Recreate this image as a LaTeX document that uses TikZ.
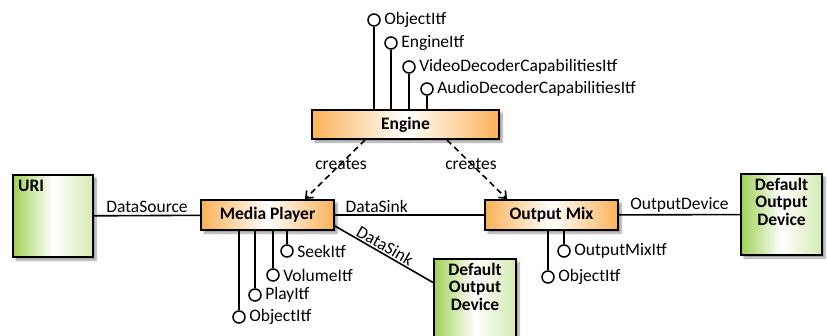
\documentclass[tikz,border=0pt]{standalone}
\usepackage{fontspec}
\setmainfont{Carlito}
\usetikzlibrary{positioning,arrows.meta,shadows.blur}

\definecolor{objorange}{RGB}{250,178,88}
\definecolor{devgreen}{RGB}{160,208,85}

\begin{document}
\begin{tikzpicture}[x=1pt, y=-1pt,
    font=\fontsize{17.5}{18}\selectfont,
    >={Straight Barb[length=6pt,width=10pt]},
    object/.style={draw, line width=2pt, inner sep=0pt,
        left color=objorange, right color=objorange, middle color=white,
        blur shadow={shadow blur steps=6, shadow xshift=3pt, shadow yshift=-3pt},
        font=\fontsize{17.5}{18}\selectfont\bfseries},
    device/.style={draw, line width=2pt, inner sep=0pt,
        left color=devgreen, right color=devgreen!45, middle color=white,
        blur shadow={shadow blur steps=6, shadow xshift=3pt, shadow yshift=-3pt}},
    devtext/.style={anchor=north, align=center, inner sep=5pt,
        font=\fontsize{17.5}{17.5}\selectfont\bfseries},
    itf/.style={circle, draw, line width=1.5pt, fill=white, inner sep=0pt, minimum size=12pt},
    conn/.style={line width=1.6pt}]

    \useasboundingbox (0,0) rectangle (827,335);

    % objects
    \node[object, minimum width=187pt, minimum height=29pt] (engine) at (405.5,124.5) {Engine};
    \node[object, minimum width=133pt, minimum height=30pt] (player) at (267.5,215) {Media Player};
    \node[object, minimum width=133pt, minimum height=30pt] (mix) at (551.5,215) {Output Mix};

    % devices
    \node[device, minimum width=80pt, minimum height=82pt,
        label={[anchor=north west, inner sep=6pt, font=\fontsize{17.5}{18}\selectfont\bfseries]north west:URI}] (uri) at (53,216) {};
    \node[device, minimum width=81pt, minimum height=81pt,
        label={[devtext]north:{Default\\Output\\Device}}] (outdev) at (781.5,214.5) {};
    \node[device, minimum width=82pt, minimum height=81pt,
        label={[devtext]north:{Default\\Output\\Device}}] (sinkdev) at (475,299.5) {};

    % interfaces
    \node[itf, label=right:ObjectItf] (eng-obj) at (374,20) {};
    \node[itf, label=right:EngineItf] (eng-eng) at (391,43) {};
    \node[itf, label=right:VideoDecoderCapabilitiesItf] (eng-vdc) at (409,67) {};
    \node[itf, label=right:AudioDecoderCapabilitiesItf] (eng-adc) at (427,89) {};

    \node[itf, label=right:SeekItf] (mp-seek) at (287,251) {};
    \node[itf, label=right:VolumeItf] (mp-vol) at (273,275) {};
    \node[itf, label=right:PlayItf] (mp-play) at (255,295) {};
    \node[itf, label=right:ObjectItf] (mp-obj) at (239,317) {};

    \node[itf, label=right:OutputMixItf] (om-mix) at (564,251) {};
    \node[itf, label=right:ObjectItf] (om-obj) at (548,277) {};

    \foreach \i in {eng-obj,eng-eng,eng-vdc,eng-adc}
        \draw[conn] (\i) -- (\i |- engine.north);
    \foreach \i in {mp-seek,mp-vol,mp-play,mp-obj}
        \draw[conn] (\i) -- (\i |- player.south);
    \foreach \i in {om-mix,om-obj}
        \draw[conn] (\i) -- (\i |- mix.south);

    % connections
    \path[conn]
        (uri) edge node[above, inner sep=2pt] {DataSource} (player)
        (player) edge node[above, inner sep=2pt, pos=0.28] {DataSink} (mix)
        (mix) edge node[above, inner sep=2pt] {OutputDevice} (outdev)
        ([yshift=5pt]player.south east) edge node[above, sloped, inner sep=1pt, pos=0.47] {DataSink} ([yshift=17pt]sinkdev.west)
        ;
    \path[conn, dash pattern=on 6pt off 4pt]
        ([xshift=-40.5pt]engine.south) edge[->] node[pos=0.4] {creates} ([xshift=37.5pt]player.north)
        ([xshift=41.5pt]engine.south) edge[->] node[pos=0.4] {creates} ([xshift=-44.5pt]mix.north)
        ;
\end{tikzpicture}
\end{document}
